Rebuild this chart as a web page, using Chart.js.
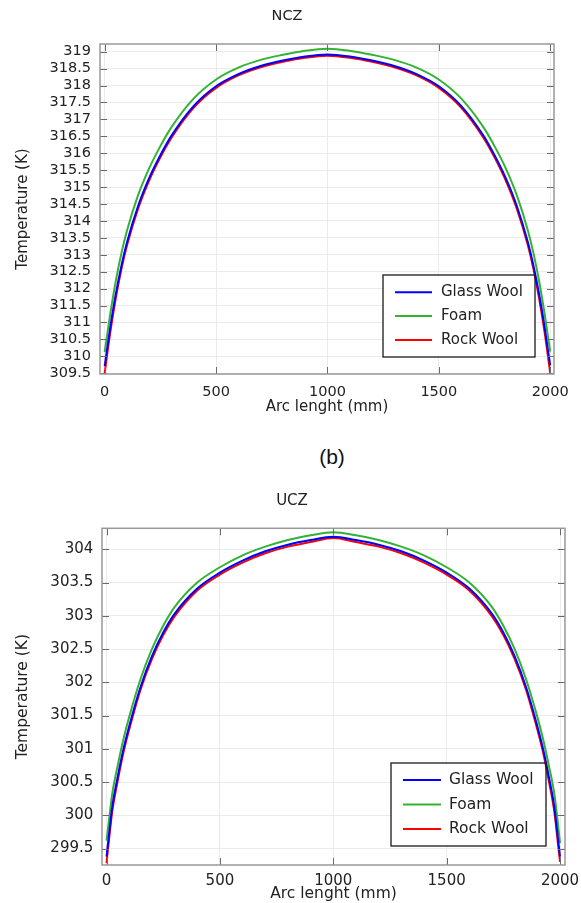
<!DOCTYPE html>
<html>
<head>
<meta charset="utf-8">
<title>NCZ / UCZ temperature</title>
<script src="https://cdn.jsdelivr.net/npm/chart.js@4.4.1/dist/chart.umd.min.js"></script>
<style>
  html, body { margin: 0; padding: 0; background: #fff; }
  body { width: 581px; height: 903px; position: relative; overflow: hidden; }
  .box { position: absolute; left: 0; width: 581px; }
  #topBox { top: 0; height: 420px; }
  #bottomBox { top: 480px; height: 423px; }
  #tag { position: absolute; left: 300px; top: 445px; width: 64px; line-height: 28px;
         text-align: center; font: 21px "Liberation Sans", Arial, sans-serif; color: #111; }
</style>
</head>
<body>
<div class="box" id="topBox"><canvas id="nczChart"></canvas></div>
<div id="tag">(b)</div>
<div class="box" id="bottomBox"><canvas id="uczChart"></canvas></div>

<script>
// --- data ---
const arcLength = [0, 10, 25, 50, 75, 100, 150, 200, 250, 300, 400, 500, 600, 700, 800, 900, 1000,
                   1100, 1200, 1300, 1400, 1500, 1600, 1700, 1750, 1800, 1850, 1900, 1925, 1950, 1975, 1990, 2000];
const arcTicks = [0, 500, 1000, 1500, 2000];

const nczGlassWool = [309.71, 310.17, 310.85, 311.84, 312.67, 313.36, 314.44, 315.27, 315.94, 316.52, 317.40, 317.98, 318.34, 318.58, 318.74, 318.86, 318.92,
                      318.86, 318.74, 318.58, 318.34, 317.98, 317.40, 316.52, 315.94, 315.27, 314.44, 313.36, 312.67, 311.84, 310.85, 310.17, 309.73];
const nczFoam      = [310.12, 310.58, 311.25, 312.23, 313.04, 313.71, 314.76, 315.56, 316.21, 316.77, 317.62, 318.18, 318.53, 318.76, 318.91, 319.03, 319.09,
                      319.03, 318.91, 318.76, 318.53, 318.18, 317.62, 316.77, 316.21, 315.56, 314.76, 313.71, 313.04, 312.23, 311.25, 310.58, 310.14];
const nczRockWool  = [309.50, 309.99, 310.70, 311.72, 312.57, 313.27, 314.36, 315.20, 315.88, 316.46, 317.35, 317.93, 318.30, 318.54, 318.70, 318.82, 318.88,
                      318.82, 318.70, 318.54, 318.30, 317.93, 317.35, 316.46, 315.88, 315.20, 314.36, 313.27, 312.57, 311.72, 310.70, 309.99, 309.50];

const uczGlassWool = [299.38, 299.68, 300.12, 300.59, 301.00, 301.34, 301.93, 302.39, 302.75, 303.03, 303.41, 303.65, 303.83, 303.97, 304.07, 304.14, 304.19,
                      304.14, 304.07, 303.97, 303.83, 303.65, 303.41, 303.03, 302.75, 302.39, 301.93, 301.34, 301.00, 300.59, 300.12, 299.68, 299.38];
const uczFoam      = [299.62, 299.90, 300.32, 300.76, 301.15, 301.48, 302.05, 302.50, 302.85, 303.13, 303.50, 303.73, 303.91, 304.04, 304.14, 304.21, 304.255,
                      304.21, 304.14, 304.04, 303.91, 303.73, 303.50, 303.13, 302.85, 302.50, 302.05, 301.48, 301.15, 300.76, 300.32, 299.90, 299.58];
const uczRockWool  = [299.28, 299.60, 300.05, 300.53, 300.95, 301.29, 301.89, 302.35, 302.71, 302.99, 303.38, 303.62, 303.80, 303.94, 304.04, 304.11, 304.17,
                      304.11, 304.04, 303.94, 303.80, 303.62, 303.38, 302.99, 302.71, 302.35, 301.89, 301.29, 300.95, 300.53, 300.05, 299.60, 299.30];

const seriesNames = ['Glass Wool', 'Foam', 'Rock Wool'];
const seriesColors = ['#0000ff', '#33b233', '#ff0000'];
const xTitle = 'Arc lenght (mm)';
const yTitle = 'Temperature (K)';
const FONT = '"DejaVu Sans", Verdana, sans-serif';

// COMSOL-like frame: inner ticks on all four sides plus a legend box inside the plot
const comsolFrame = {
    id: 'comsolFrame',
    beforeDatasetsDraw(chart, args, o) {
        const ctx = chart.ctx;
        ctx.save();
        ctx.fillStyle = '#fff';
        ctx.fillRect(o.box[0], o.box[1], o.box[2], o.box[3]);
        ctx.restore();
    },
    afterDatasetsDraw(chart, args, o) {
        const { ctx, chartArea: a, scales: { x, y } } = chart;
        ctx.save();
        ctx.strokeStyle = '#6a6a6a';
        ctx.lineWidth = 1;
        ctx.beginPath();
        x.ticks.forEach(t => {
            const px = Math.round(x.getPixelForValue(t.value)) + 0.5;
            ctx.moveTo(px, a.bottom); ctx.lineTo(px, a.bottom - 7);
            ctx.moveTo(px, a.top); ctx.lineTo(px, a.top + 7);
        });
        y.ticks.forEach(t => {
            const py = Math.round(y.getPixelForValue(t.value)) + 0.5;
            ctx.moveTo(a.left, py); ctx.lineTo(a.left + 7, py);
            ctx.moveTo(a.right, py); ctx.lineTo(a.right - 7, py);
        });
        ctx.stroke();
        ctx.strokeStyle = '#999';
        ctx.lineWidth = 1.5;
        ctx.strokeRect(a.left, a.top, a.right - a.left, a.bottom - a.top);

        // legend
        const [bx, by, bw, bh] = o.box;
        ctx.strokeStyle = '#1a1a1a';
        ctx.lineWidth = 1.3;
        ctx.strokeRect(bx, by, bw, bh);
        ctx.font = o.fontSize + 'px ' + FONT;
        ctx.textBaseline = 'middle';
        chart.data.datasets.forEach((ds, i) => {
            const ry = by + o.firstRow + i * o.rowGap;
            ctx.strokeStyle = ds.borderColor;
            ctx.lineWidth = 2;
            ctx.beginPath();
            ctx.moveTo(bx + o.lineX[0], ry);
            ctx.lineTo(bx + o.lineX[1], ry);
            ctx.stroke();
            ctx.fillStyle = '#222';
            ctx.fillText(ds.label, bx + o.textX, ry);
        });
        ctx.restore();
    }
};

const fmt = v => String(Math.round(v * 10) / 10);

function makeChart(canvasId, cfg) {
    const datasets = cfg.series.map((vals, i) => ({
        label: seriesNames[i],
        data: arcLength.map((s, k) => ({ x: s, y: vals[k] })),
        borderColor: seriesColors[i],
        backgroundColor: seriesColors[i],
        borderWidth: 2,
        pointRadius: 0,
        fill: false,
        cubicInterpolationMode: 'monotone'
    }));

    return new Chart(document.getElementById(canvasId), {
        type: 'line',
        data: { datasets },
        plugins: [comsolFrame],
        options: {
            responsive: true,
            maintainAspectRatio: false,
            animation: false,
            layout: { padding: { left: cfg.padLeft, right: cfg.padRight, top: 0, bottom: 0 } },
            plugins: {
                legend: { display: false },
                tooltip: { enabled: false },
                title: {
                    display: true,
                    text: cfg.title,
                    color: '#222',
                    font: { family: FONT, size: cfg.titleSize, weight: 'normal' },
                    padding: cfg.titlePad
                },
                comsolFrame: cfg.legend
            },
            scales: {
                x: {
                    type: 'linear',
                    min: cfg.xMin, max: cfg.xMax,
                    afterBuildTicks: s => { s.ticks = arcTicks.map(v => ({ value: v })); },
                    afterFit: s => { s.height = cfg.xAxisHeight; s.paddingLeft = 0; s.paddingRight = 0; },
                    grid: { color: '#ebebeb', drawTicks: false },
                    border: { display: false },
                    ticks: {
                        autoSkip: false, maxRotation: 0,
                        padding: cfg.xTickPad, color: '#222', callback: fmt,
                        font: { family: FONT, size: cfg.tickSize }
                    },
                    title: {
                        display: true, text: xTitle, color: '#222',
                        font: { family: FONT, size: cfg.axisTitleSize },
                        padding: { top: 0, bottom: cfg.xTitlePad }
                    }
                },
                y: {
                    min: cfg.yMin, max: cfg.yMax,
                    afterFit: s => { s.width = cfg.yAxisWidth; },
                    grid: { color: '#ebebeb', drawTicks: false },
                    border: { display: false },
                    ticks: {
                        stepSize: 0.5, includeBounds: false, autoSkip: false,
                        padding: cfg.yTickPad, color: '#222', callback: fmt,
                        font: { family: FONT, size: cfg.tickSize }
                    },
                    title: {
                        display: true, text: yTitle, color: '#222',
                        font: { family: FONT, size: cfg.axisTitleSize },
                        padding: { top: cfg.yTitlePad, bottom: 0 }
                    }
                }
            }
        }
    });
}

makeChart('nczChart', {
    title: 'NCZ',
    series: [nczGlassWool, nczFoam, nczRockWool],
    xMin: -21, xMax: 2017,
    yMin: 309.476, yMax: 319.228,
    padLeft: 20, padRight: 27,
    titleSize: 14.5, titlePad: { top: 7.8, bottom: 18.8 },
    tickSize: 14.5, axisTitleSize: 15,
    xAxisHeight: 46, yAxisWidth: 80,
    xTickPad: 10, yTickPad: 9,
    xTitlePad: 4, yTitlePad: -6,
    legend: { box: [383, 275, 152, 82], firstRow: 17.3, rowGap: 23.8, lineX: [12, 49], textX: 58, fontSize: 15 }
});

makeChart('uczChart', {
    title: 'UCZ',
    series: [uczGlassWool, uczFoam, uczRockWool],
    xMin: -20, xMax: 2022,
    yMin: 299.252, yMax: 304.316,
    padLeft: 19, padRight: 16,
    titleSize: 15, titlePad: { top: 11.7, bottom: 18.6 },
    tickSize: 15, axisTitleSize: 15.5,
    xAxisHeight: 38, yAxisWidth: 83,
    xTickPad: 7, yTickPad: 8.7,
    xTitlePad: 0, yTitlePad: -5,
    legend: { box: [391, 283, 155, 83], firstRow: 17, rowGap: 24.5, lineX: [12, 50], textX: 58, fontSize: 15.5 }
});
</script>
</body>
</html>
